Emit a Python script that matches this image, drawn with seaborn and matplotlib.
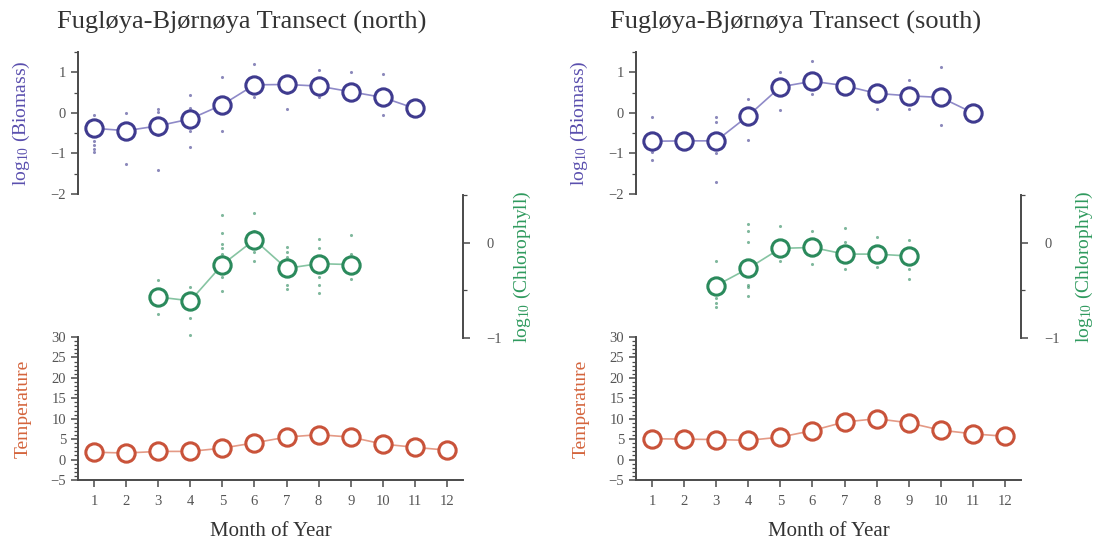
import numpy as np
import pandas as pd
from matplotlib import pyplot as plt
from matplotlib.ticker import MultipleLocator
import seaborn as sns

sns.set_theme(style="ticks")
plt.rcParams['font.family'] = ['Liberation Serif', 'DejaVu Serif']
plt.rcParams['mathtext.default'] = 'regular'

months = list(range(1, 13))

# mean values per month
biomass_north = [-0.38, -0.44, -0.32, -0.15, 0.20, 0.69, 0.70, 0.66, 0.52, 0.38, 0.11]
biomass_south = [-0.70, -0.69, -0.69, -0.07, 0.64, 0.78, 0.67, 0.48, 0.42, 0.38, 0.00]
chl_months = [3, 4, 5, 6, 7, 8, 9]
chl_north = [-0.57, -0.61, -0.23, 0.03, -0.27, -0.22, -0.23]
chl_south = [-0.45, -0.27, -0.06, -0.05, -0.12, -0.12, -0.14]
temp_north = [1.8, 1.6, 2.0, 2.0, 2.8, 4.1, 5.5, 6.1, 5.5, 3.8, 3.0, 2.3]
temp_south = [5.1, 5.0, 4.9, 4.7, 5.5, 7.1, 9.2, 10.0, 9.0, 7.2, 6.3, 5.7]

# individual observations (small dots)
bio_obs_north_m = [1, 1, 1, 1, 1, 2, 2, 3, 3, 3, 3, 4, 4, 4, 4, 5, 5, 6, 6, 7, 7, 8, 8, 9, 9, 10, 10]
bio_obs_north_v = [-0.05, -0.7, -0.8, -0.9, -0.97, 0.0, -1.25, 0.1, 0.03, -0.55, -1.4,
                   0.45, 0.13, -0.45, -0.83, 0.88, -0.45, 1.2, 0.4, 0.5, 0.1, 1.05, 0.4,
                   1.0, 0.4, 0.97, -0.05]
bio_obs_south_m = [1, 1, 1, 2, 3, 3, 3, 3, 4, 4, 5, 5, 6, 6, 7, 8, 9, 9, 10, 10]
bio_obs_south_v = [-0.1, -0.97, -1.17, -0.85, -0.1, -0.23, -1.0, -1.7, 0.35, -0.68,
                   1.0, 0.07, 1.28, 0.47, 0.88, 0.1, 0.8, 0.1, 1.12, -0.3]
chl_obs_north_m = [3, 3, 4, 4, 4, 5, 5, 5, 5, 5, 5, 5, 6, 6, 6, 6, 7, 7, 7, 7, 7,
                   8, 8, 8, 8, 8, 9, 9, 9]
chl_obs_north_v = [-0.39, -0.75, -0.47, -0.79, -0.97, 0.29, 0.10, -0.01, -0.06, -0.12,
                   -0.36, -0.51, 0.31, 0.12, -0.10, -0.19, -0.05, -0.10, -0.15, -0.44,
                   -0.49, 0.04, -0.06, -0.36, -0.44, -0.53, 0.08, -0.12, -0.38]
chl_obs_south_m = [3, 3, 3, 3, 4, 4, 4, 4, 4, 4, 5, 5, 6, 6, 7, 7, 7, 8, 8, 9, 9, 9]
chl_obs_south_v = [-0.19, -0.58, -0.63, -0.68, 0.20, 0.12, 0.01, -0.44, -0.47, -0.56,
                   0.17, -0.19, 0.12, -0.22, 0.15, 0.01, -0.28, 0.06, -0.26, 0.03,
                   -0.28, -0.38]
temp_obs_north_m = [2, 7, 7, 8]
temp_obs_north_v = [0.5, 3.9, 7.0, 4.2]

panels = [
    ("north", biomass_north, chl_north, temp_north,
     bio_obs_north_m, bio_obs_north_v, chl_obs_north_m, chl_obs_north_v,
     temp_obs_north_m, temp_obs_north_v),
    ("south", biomass_south, chl_south, temp_south,
     bio_obs_south_m, bio_obs_south_v, chl_obs_south_m, chl_obs_south_v, [], []),
]

c_bio, c_bio_line = "#3f3b8f", "#8f8ac8"
c_chl, c_chl_line = "#2b8a5c", "#86c4a2"
c_tmp, c_tmp_line = "#c9533a", "#e49a86"
c_lab_bio, c_lab_chl, c_lab_tmp = "#5a4fae", "#2f9a5e", "#d4643c"
c_spine, c_tick = "#4a4a4a", "#555555"

W, H = 1105, 543
fig = plt.figure(figsize=(W / 100, H / 100), dpi=100)

lefts = [78, 636]
width = 385
title_x = [242, 796]
chl_label_x = [1.127, 1.138]


def frac(x0, y_top, w, h):
    return [x0 / W, 1 - (y_top + h) / H, w / W, h / H]


def style(ax, side):
    for s in ax.spines.values():
        s.set_visible(False)
    ax.spines[side].set_visible(True)
    ax.spines[side].set_color(c_spine)
    ax.spines[side].set_linewidth(1.4)
    ax.tick_params(axis="y", colors=c_spine, labelcolor=c_tick, labelsize=10.5,
                   length=5, width=1.1, which="major")
    ax.tick_params(axis="y", colors=c_spine, length=3, width=0.9, which="minor")
    ax.set_xlim(0.5, 12.5)
    ax.set_facecolor("none")


def means(ax, x, y, c, cl):
    sns.lineplot(x=x, y=y, ax=ax, color=cl, lw=1.2, zorder=2)
    sns.scatterplot(x=x, y=y, ax=ax, s=155, facecolor="white", edgecolor=c,
                    linewidth=2.2, zorder=3)


def dots(ax, x, y, c):
    if len(x):
        sns.scatterplot(x=x, y=y, ax=ax, s=5, color=c, alpha=0.6, linewidth=0,
                        zorder=1)


for i, (name, bio, chl, tmp, bm, bv, cm, cv, tm, tv) in enumerate(panels):
    x0 = lefts[i]

    # biomass
    ax1 = fig.add_axes(frac(x0, 52, width, 142))
    dots(ax1, bm, bv, c_bio)
    means(ax1, months[:len(bio)], bio, c_bio, c_bio_line)
    ax1.set_ylim(-2, 1.5)
    style(ax1, "left")
    ax1.set_xticks([])
    ax1.set_yticks([-2, -1, 0, 1])
    ax1.set_yticklabels(["\u22122", "\u22121", "0", "1"])
    ax1.yaxis.set_minor_locator(MultipleLocator(0.5))
    ax1.set_ylabel("log$_{10}$ (Biomass)", color=c_lab_bio, fontsize=14)
    ax1.yaxis.set_label_coords(-0.12, 0.5)
    ax1.set_xlabel("")

    # chlorophyll
    ax2 = fig.add_axes(frac(x0, 195, width, 143))
    dots(ax2, cm, cv, c_chl)
    means(ax2, chl_months, chl, c_chl, c_chl_line)
    ax2.set_ylim(-1, 0.5)
    style(ax2, "right")
    ax2.yaxis.tick_right()
    ax2.yaxis.set_label_position("right")
    ax2.set_xticks([])
    ax2.set_yticks([-1, 0])
    ax2.set_yticklabels(["\u22121", "0"])
    ax2.yaxis.set_minor_locator(MultipleLocator(0.5))
    ax2.tick_params(axis="y", pad=12)
    ax2.set_ylabel("log$_{10}$ (Chlorophyll)", color=c_lab_chl, fontsize=14)
    ax2.yaxis.set_label_coords(chl_label_x[i], 0.5)
    ax2.set_xlabel("")

    # temperature
    ax3 = fig.add_axes(frac(x0, 337, width, 143))
    dots(ax3, tm, tv, c_tmp)
    means(ax3, months, tmp, c_tmp, c_tmp_line)
    ax3.set_ylim(-5, 30)
    style(ax3, "left")
    ax3.spines["bottom"].set_visible(True)
    ax3.spines["bottom"].set_color(c_spine)
    ax3.spines["bottom"].set_linewidth(1.4)
    ax3.set_yticks(range(-5, 31, 5))
    ax3.set_yticklabels(["\u22125"] + [str(v) for v in range(0, 31, 5)])
    ax3.yaxis.set_minor_locator(MultipleLocator(1))
    ax3.set_xticks(months)
    ax3.tick_params(axis="x", colors=c_spine, labelcolor=c_tick, labelsize=10.5,
                    length=5, width=1.1, pad=6)
    ax3.set_ylabel("Temperature", color=c_lab_tmp, fontsize=14)
    ax3.yaxis.set_label_coords(-0.12, 0.5)
    ax3.set_xlabel("Month of Year", color="#333333", fontsize=15, labelpad=10)

    fig.text(title_x[i] / W, 1 - 22 / H, f"Fugl\u00f8ya-Bj\u00f8rn\u00f8ya Transect ({name})",
             ha="center", va="center", fontsize=19, color="#333333")

fig.savefig("out.png", dpi=100)
